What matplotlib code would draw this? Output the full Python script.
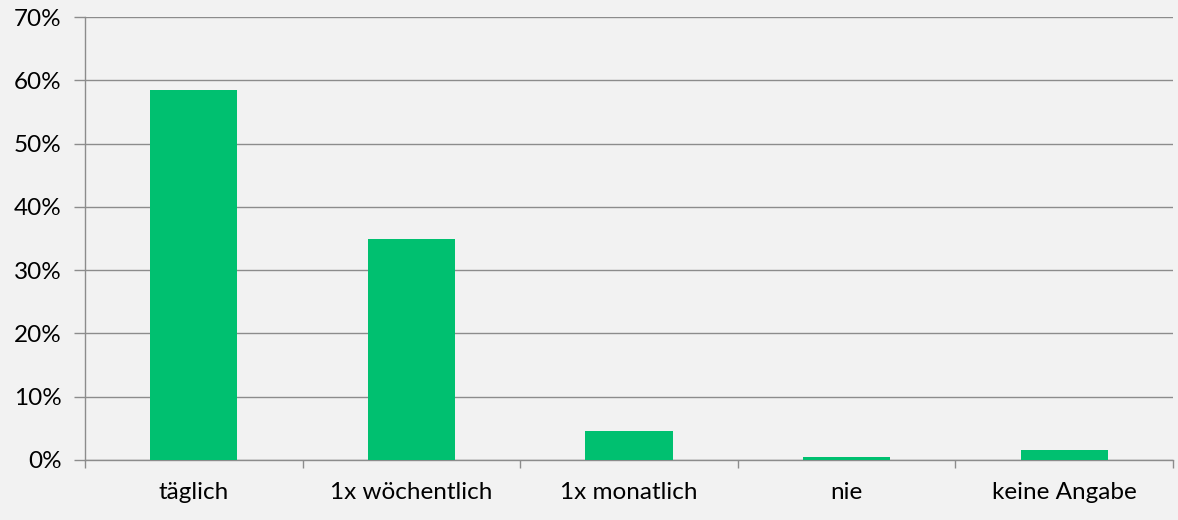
import matplotlib.pyplot as plt
import numpy as np
from matplotlib.ticker import PercentFormatter, MultipleLocator, FixedLocator

plt.rcParams['font.family'] = ['Lato', 'DejaVu Sans']

kategorien = ['täglich', '1x wöchentlich', '1x monatlich', 'nie', 'keine Angabe']
anteile = [58.4, 34.9, 4.6, 0.4, 1.6]

grau = '#8c8c8c'
gruen = '#00c070'

fig = plt.figure(figsize=(11.78, 5.2), dpi=100, facecolor='#f2f2f2')
ax = fig.add_axes([85 / 1178, 60 / 520, 1088 / 1178, 443 / 520])
ax.set_facecolor('#f2f2f2')

x = np.arange(len(kategorien))
ax.bar(x, anteile, width=0.4, color=gruen, zorder=3)

ax.set_xlim(-0.5, len(kategorien) - 0.5)
ax.set_ylim(0, 70)
ax.yaxis.set_major_locator(MultipleLocator(10))
ax.yaxis.set_major_formatter(PercentFormatter(decimals=0))
ax.grid(axis='y', color=grau, linewidth=1, zorder=0)

ax.set_xticks(x)
ax.set_xticklabels(kategorien)
ax.xaxis.set_minor_locator(FixedLocator(np.arange(-0.5, len(kategorien), 1)))
ax.tick_params(axis='x', which='major', length=0, pad=16, labelsize=17.5)
ax.tick_params(axis='x', which='minor', length=6, color=grau, width=1)
ax.tick_params(axis='y', length=8, color=grau, width=1, labelsize=17.5, pad=9)

for s in ['top', 'right']:
    ax.spines[s].set_visible(False)
for s in ['left', 'bottom']:
    ax.spines[s].set_color(grau)
    ax.spines[s].set_linewidth(1)

fig.savefig('out.png', dpi=100, facecolor=fig.get_facecolor())
